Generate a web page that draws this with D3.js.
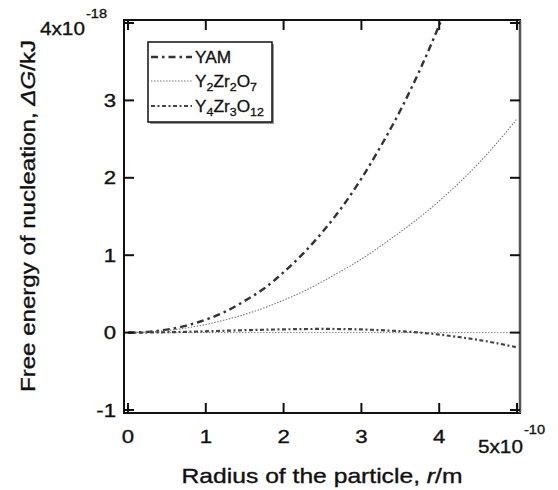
<!DOCTYPE html>
<html><head><meta charset="utf-8">
<script src="https://cdn.jsdelivr.net/npm/d3@7"></script>
<style>html,body{margin:0;padding:0;background:#fff}svg{display:block;font-family:"Liberation Sans",Arial,sans-serif}</style>
</head><body><svg id="c" width="558" height="490"></svg>
<script>
const radius = [0,0.25,0.5,0.75,1,1.25,1.5,1.75,2,2.25,2.5,2.75,3,3.25,3.5,3.75,4,4.25,4.5,4.75,5];
const yam = [0,0.009,0.038,0.09,0.167,0.27,0.41,0.57,0.78,1.02,1.30,1.62,1.99,2.41,2.87,3.39,3.97,4.60,null,null,null];
const y2zr2o7 = [0,0.007,0.027,0.06,0.105,0.165,0.235,0.32,0.42,0.53,0.66,0.80,0.95,1.12,1.30,1.49,1.70,1.93,2.18,2.46,2.76];
const y4zr3o12 = [0,0.001,0.005,0.010,0.017,0.024,0.031,0.037,0.042,0.046,0.047,0.046,0.041,0.031,0.018,0,-0.026,-0.057,-0.094,-0.139,-0.19];
const xTicks = [0,1,2,3,4];
const yTicks = [-1,0,1,2,3];
const seriesNames = ["YAM","Y2Zr2O7","Y4Zr3O12"];

const svg = d3.select("#c");
const x = d3.scaleLinear().domain([0,5]).range([128,517]);
const y = d3.scaleLinear().domain([-1,4]).range([410,23]);
const fx0 = x.range()[0]-4, fx1 = x.range()[1]+3, fy0 = y.range()[1]-3, fy1 = y.range()[0]+3;
const ink = "#111";

svg.append("defs").append("clipPath").attr("id","clip")
  .append("rect").attr("x",fx0).attr("y",fy0).attr("width",fx1-fx0).attr("height",fy1-fy0);

svg.append("line").attr("x1",x(0)).attr("x2",x(5)).attr("y1",y(0)).attr("y2",y(0))
  .attr("stroke","#888").attr("stroke-width",1).attr("stroke-dasharray","1.5,1.5");

const styles = [
  {data: yam, stroke:"#333", width:2.4, dash:"7,4,2.5,4"},
  {data: y2zr2o7, stroke:"#777", width:1.1, dash:"1.5,1.5"},
  {data: y4zr3o12, stroke:"#444", width:2.2, dash:"4,2.5,2,2.5"}
];
const line = d3.line().defined(d=>d[1]!==null).x(d=>x(d[0])).y(d=>y(d[1])).curve(d3.curveCatmullRom);
const g = svg.append("g").attr("clip-path","url(#clip)");
styles.forEach(s=>{
  g.append("path").datum(radius.map((r,i)=>[r,s.data[i]]))
    .attr("d",line).attr("fill","none").attr("stroke",s.stroke)
    .attr("stroke-width",s.width).attr("stroke-dasharray",s.dash);
});

svg.append("rect").attr("x",fx0).attr("y",fy0).attr("width",fx1-fx0).attr("height",fy1-fy0)
  .attr("fill","none").attr("stroke",ink).attr("stroke-width",2);
svg.append("line").attr("x1",fx1).attr("x2",fx1).attr("y1",fy0).attr("y2",fy1).attr("stroke","#555").attr("stroke-width",2.5);

const tl = 10;
const tickG = svg.append("g").attr("stroke",ink).attr("stroke-width",2);
[...xTicks,5].forEach(t=>{
  tickG.append("line").attr("x1",x(t)).attr("x2",x(t)).attr("y1",fy1).attr("y2",fy1-tl);
  tickG.append("line").attr("x1",x(t)).attr("x2",x(t)).attr("y1",fy0).attr("y2",fy0+tl);
});
[...yTicks,4].forEach(t=>{
  tickG.append("line").attr("x1",fx0).attr("x2",fx0+tl).attr("y1",y(t)).attr("y2",y(t));
  tickG.append("line").attr("x1",fx1).attr("x2",fx1-tl).attr("y1",y(t)).attr("y2",y(t));
});

function stext(px, py, anchor, size, sx, rot){
  const gg = svg.append("g").attr("transform",`translate(${px},${py})${rot?" rotate(-90)":""} scale(${sx},1)`);
  return gg.append("text").attr("text-anchor",anchor).attr("font-size",size)
    .attr("fill",ink).attr("stroke",ink).attr("stroke-width",0.35);
}

const fs = 18.5;
xTicks.forEach(d=> stext(x(d),443,"middle",fs,1.2).text(d));
yTicks.forEach(d=> stext(116,y(d)+6.5,"end",fs,1.2).text(d));

const e1 = stext(40,35,"start",fs,1.12);
e1.append("tspan").text("4x10");
e1.append("tspan").attr("dx",1).attr("dy",-17).attr("font-size",13).text("-18");
const e2 = stext(478,453,"start",fs,1.12);
e2.append("tspan").text("5x10");
e2.append("tspan").attr("dx",1).attr("dy",-19).attr("font-size",13).text("-10");

const xt = stext(322,483,"middle",20,1.2);
xt.append("tspan").text("Radius of the particle, ");
xt.append("tspan").attr("font-style","italic").text("r");
xt.append("tspan").text("/m");
const yt = stext(35,216,"middle",20,1.2,true);
yt.append("tspan").text("Free energy of nucleation, ");
yt.append("tspan").attr("font-style","italic").text("\u0394G");
yt.append("tspan").text("/kJ");
function fit(t, target){
  const w = t.node().getComputedTextLength();
  const p = t.node().parentNode;
  p.setAttribute("transform", p.getAttribute("transform").replace(/scale\([^)]*\)/, `scale(${target/w},1)`));
}
fit(xt, 281);
fit(yt, 352);

const lg = svg.append("g");
lg.append("rect").attr("x",150).attr("y",44).attr("width",124).attr("height",80).attr("fill","#999");
lg.append("rect").attr("x",148).attr("y",42).attr("width",124).attr("height",80).attr("fill","#fff").attr("stroke",ink).attr("stroke-width",1.5);
const ly = [57,81,106];
styles.forEach((s,i)=>{
  lg.append("line").attr("x1",151).attr("x2",192).attr("y1",ly[i]).attr("y2",ly[i])
    .attr("stroke",s.stroke).attr("stroke-width",s.width).attr("stroke-dasharray",s.dash);
});
function chem(t, name){
  const parts = name.match(/[A-Za-z]+|\d+/g);
  let sub=false;
  parts.forEach(p=>{
    if(/\d/.test(p)){ t.append("tspan").attr("dy",sub?0:4).attr("font-size",11.5).text(p); sub=true; }
    else { t.append("tspan").attr("dy",sub?-4:0).text(p); sub=false; }
  });
}
seriesNames.forEach((n,i)=>{
  const gg = lg.append("g").attr("transform",`translate(195,${ly[i]+6}) scale(1.08,1)`);
  const t = gg.append("text").attr("font-size",16).attr("fill",ink).attr("stroke",ink).attr("stroke-width",0.3);
  chem(t,n);
});
</script></body></html>
